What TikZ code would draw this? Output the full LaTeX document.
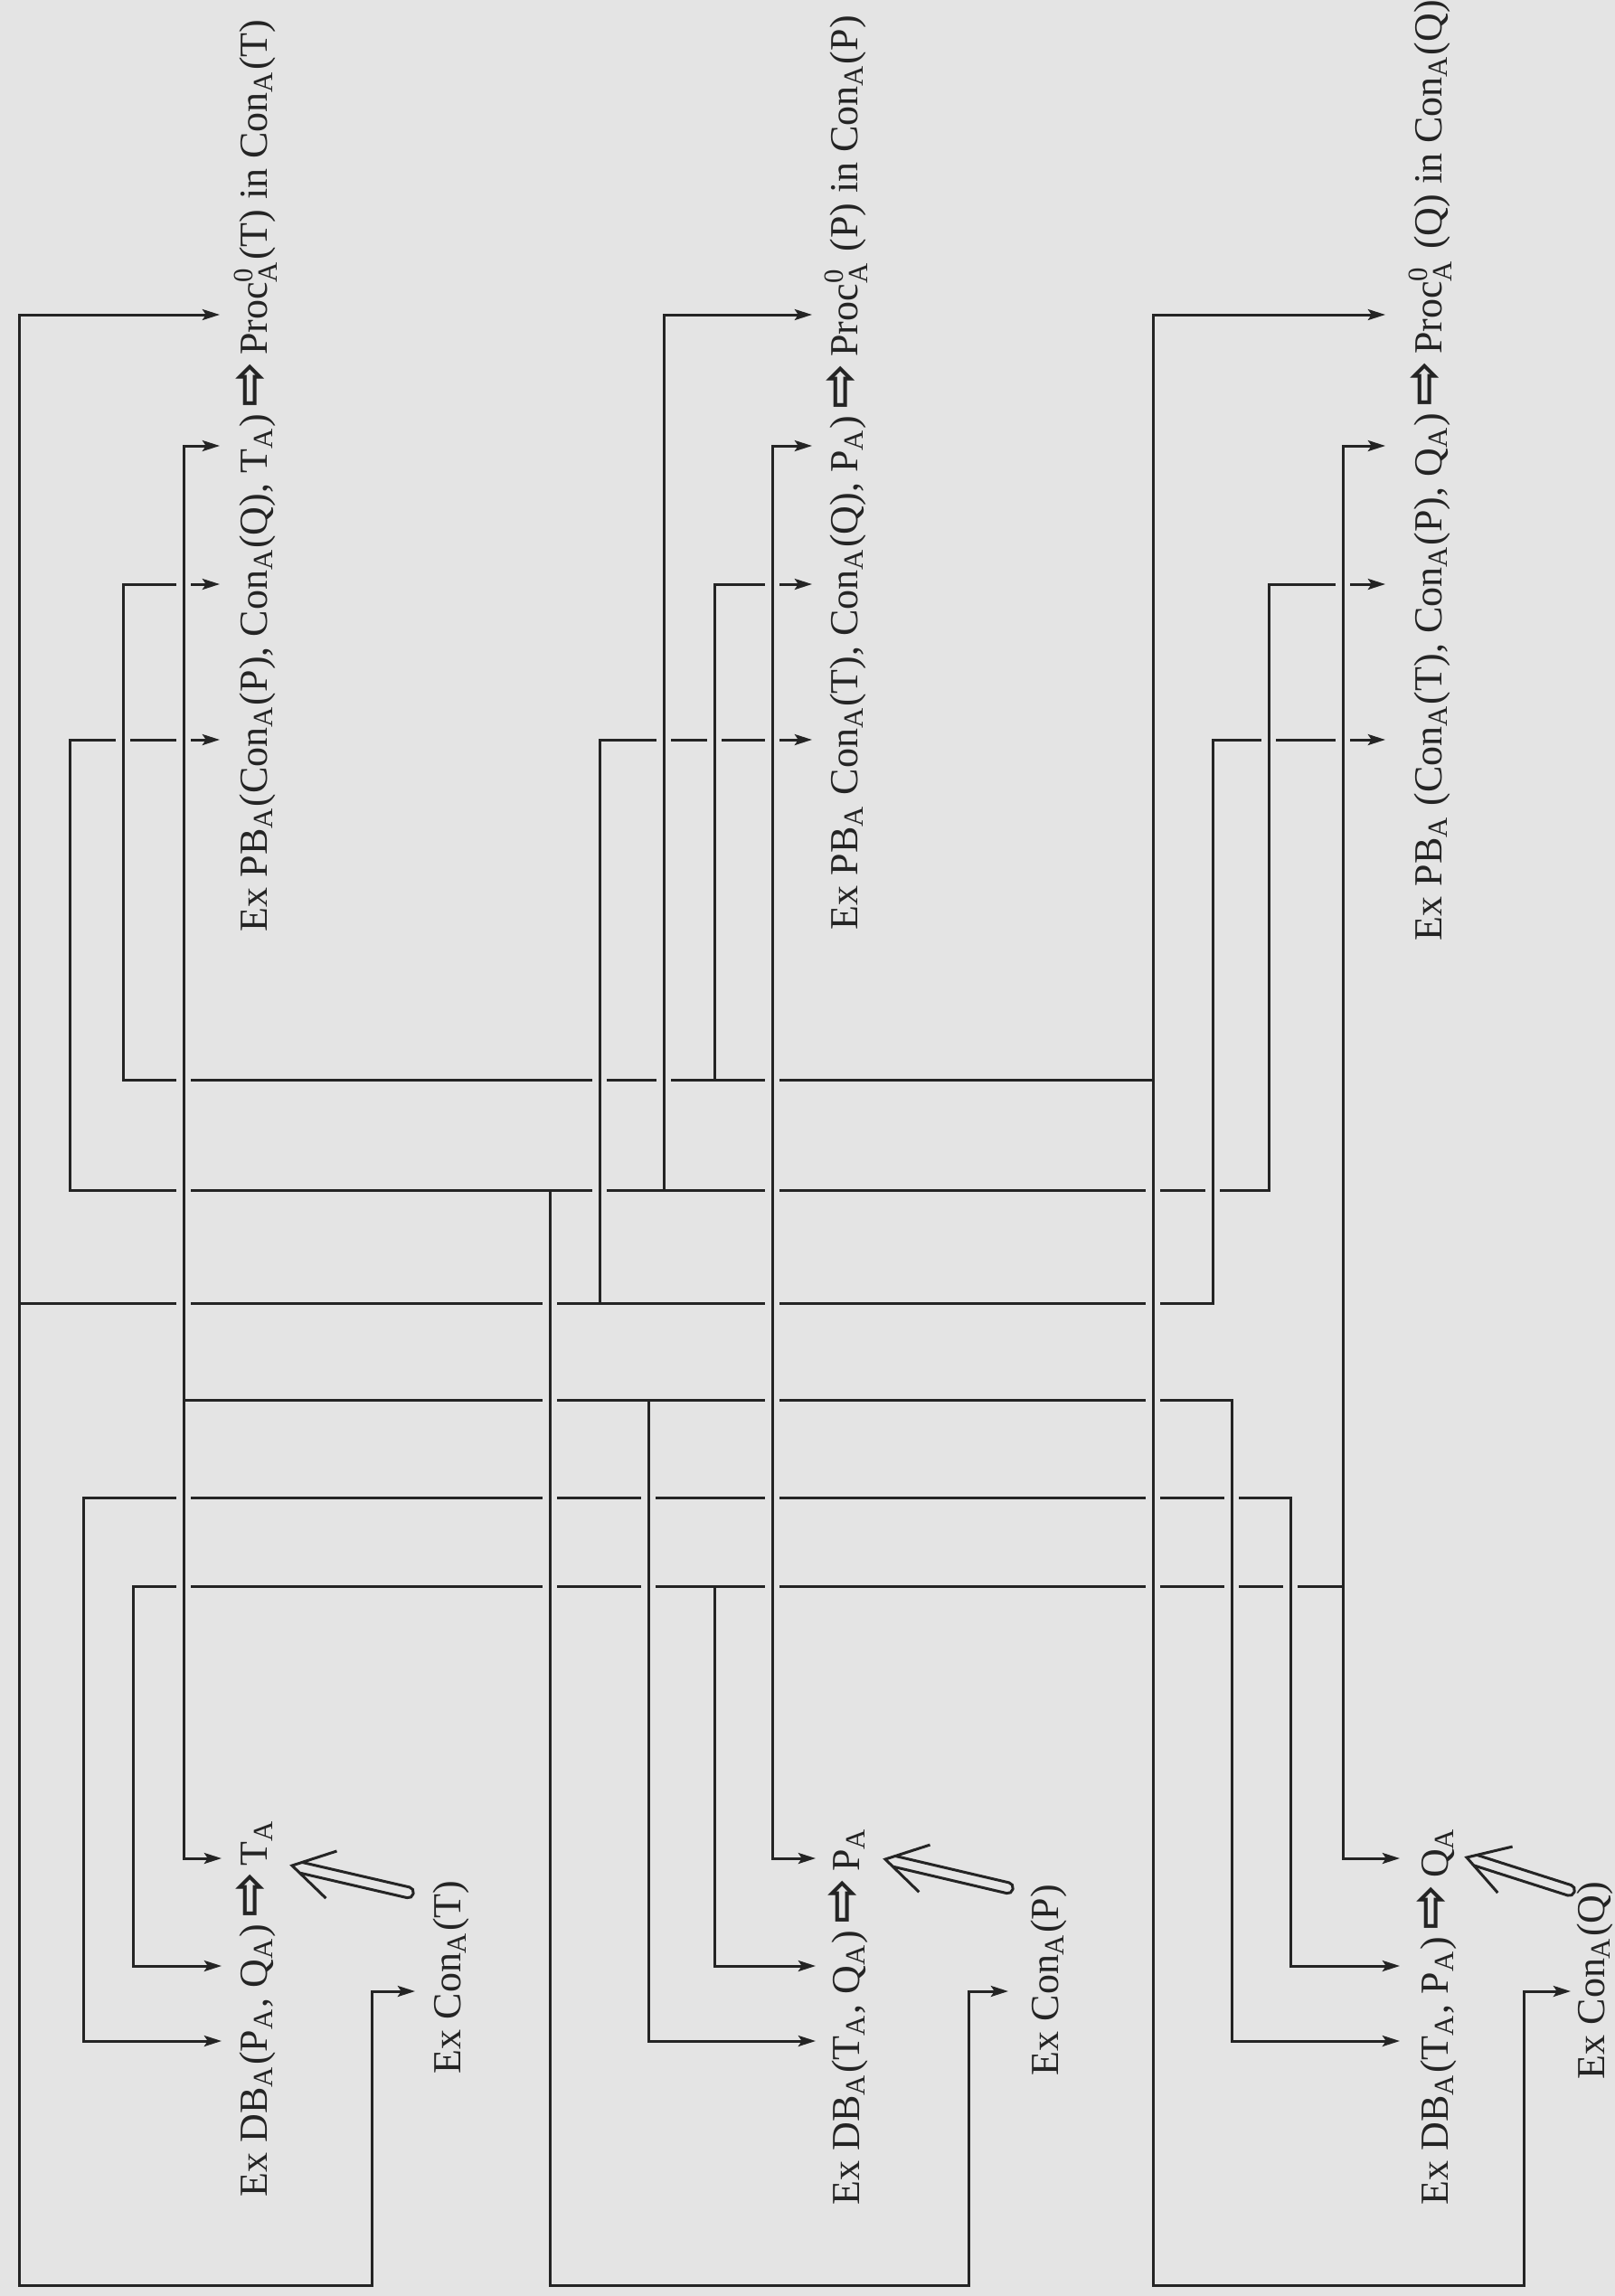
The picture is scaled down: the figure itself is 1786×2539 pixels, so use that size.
\documentclass[tikz,border=0pt]{standalone}
\usepackage{fontspec}
\usepackage{amsmath}
\setmainfont{Liberation Serif}
\newfontfamily\arrowfont{DejaVu Sans}
\usetikzlibrary{arrows.meta,calc}
\definecolor{bg}{RGB}{228,228,228}
\definecolor{ink}{RGB}{36,36,36}
\newcommand{\sA}{\ensuremath{_{\text{A}}}}
\newcommand{\pz}{\ensuremath{^{\text{0}}_{\text{A}}}}
\newcommand{\impl}{{\arrowfont\bfseries\fontsize{15}{15}\selectfont ⇨}}
\newcommand{\hollowarrow}[2]{%
  \coordinate (hb) at ($(#2)!2.6pt!(#1)$);
  \coordinate (hbL) at ($(hb)!1.5pt!90:(#1)$);
  \coordinate (hbR) at ($(hb)!1.5pt!-90:(#1)$);
  \coordinate (tlL) at ($(#1)!1.5pt!-90:(#2)$);
  \coordinate (tlR) at ($(#1)!1.5pt!90:(#2)$);
  \draw[hol,rounded corners=1.4pt] (hbL) -- (tlL) -- (tlR) -- (hbR);
  \draw[hol,line join=miter] ($(#2)!13pt!31:(#1)$) -- (#2) -- ($(#2)!13pt!-31:(#1)$);
}
\begin{document}
\begin{tikzpicture}[x=0.25pt,y=-0.25pt,
  lbl/.style={rotate=90,anchor=base west,inner sep=0pt,text=ink,font=\fontsize{11}{13}\selectfont},
  ln/.style={draw=ink,line width=0.75pt,line cap=rect},
  arw/.style={draw=ink,line width=0.75pt,-{Stealth[length=4.8pt,width=3pt,inset=1pt]}},
  vln/.style={draw=ink,line width=0.75pt,line cap=rect,preaction={draw=bg,line width=3.8pt,line cap=butt,shorten <=3pt,shorten >=3pt}},
  hol/.style={draw=ink,line width=0.75pt}]
\fill[bg] (0,0) rectangle (1786,2539);
\useasboundingbox (0,0) rectangle (1786,2539);

% ---- text nodes ----
\node[lbl] (tT) at (295,1031) {Ex PB\sA(Con\sA(P), Con\sA(Q), T\sA)\,\impl\,Proc\pz(T) in Con\sA(T)};
\node[lbl] (tP) at (948,1029) {Ex PB\sA{} Con\sA(T), Con\sA(Q), P\sA)\,\impl\,Proc\pz\ (P) in Con\sA(P)};
\node[lbl] (tQ) at (1594,1041) {Ex PB\sA{} (Con\sA(T), Con\sA(P), Q\sA)\,\impl\,Proc\pz\ (Q) in Con\sA(Q)};
\node[lbl] (dT) at (295,2430) {Ex DB\sA(P\sA, Q\sA)\,\impl\,T\sA};
\node[lbl] (dP) at (950,2439) {Ex DB\sA(T\sA, Q\sA)\,\impl\,P\sA};
\node[lbl] (dQ) at (1601,2439) {Ex DB\sA(T\sA, P\sA)\,\impl\,Q\sA};
\node[lbl] (cT) at (509,2294) {Ex Con\sA(T)};
\node[lbl] (cP) at (1170,2296) {Ex Con\sA(P)};
\node[lbl] (cQ) at (1774,2300) {Ex Con\sA(Q)};

% ---- arrow tip coordinates ----
\coordinate (tT0) at (243,348); \coordinate (tT3) at (243,493);
\coordinate (tT2) at (243,646); \coordinate (tT1) at (243,818);
\coordinate (tP0) at (898,348); \coordinate (tP3) at (898,493);
\coordinate (tP2) at (898,646); \coordinate (tP1) at (898,818);
\coordinate (tQ0) at (1532,348); \coordinate (tQ3) at (1532,493);
\coordinate (tQ2) at (1532,646); \coordinate (tQ1) at (1532,818);
\coordinate (dT3) at (245,2055); \coordinate (dT2) at (245,2174); \coordinate (dT1) at (245,2257);
\coordinate (dP3) at (902,2055); \coordinate (dP2) at (902,2174); \coordinate (dP1) at (902,2257);
\coordinate (dQ3) at (1548,2055); \coordinate (dQ2) at (1548,2174); \coordinate (dQ1) at (1548,2257);
\coordinate (cTin) at (459,2202); \coordinate (cPin) at (1115,2202); \coordinate (cQin) at (1737,2202);

% ---- horizontal lines (drawn under) ----
\draw[ln] (136,1194) -- (1275,1194);
\draw[ln] (77,1316) -- (1403,1316);
\draw[ln] (21,1441) -- (1341,1441);
\draw[ln] (203,1548) -- (1362,1548);
\draw[ln] (92,1656) -- (1427,1656);
\draw[ln] (147,1754) -- (1485,1754);
\draw[ln] (21,2527) -- (411,2527);
\draw[ln] (608,2527) -- (1071,2527);
\draw[ln] (1275,2527) -- (1685,2527);

\draw[arw] (21,348) -- (tT0);
\draw[arw] (203,493) -- (tT3);
\draw[arw] (136,646) -- (tT2);
\draw[arw] (77,818) -- (tT1);
\draw[arw] (734,348) -- (tP0);
\draw[arw] (854,493) -- (tP3);
\draw[arw] (790,646) -- (tP2);
\draw[arw] (663,818) -- (tP1);
\draw[arw] (1275,348) -- (tQ0);
\draw[arw] (1485,493) -- (tQ3);
\draw[arw] (1403,646) -- (tQ2);
\draw[arw] (1341,818) -- (tQ1);

\draw[arw] (203,2055) -- (dT3);
\draw[arw] (147,2174) -- (dT2);
\draw[arw] (92,2257) -- (dT1);
\draw[arw] (411,2202) -- (cTin);
\draw[arw] (854,2055) -- (dP3);
\draw[arw] (790,2174) -- (dP2);
\draw[arw] (717,2257) -- (dP1);
\draw[arw] (1071,2202) -- (cPin);
\draw[arw] (1485,2055) -- (dQ3);
\draw[arw] (1427,2174) -- (dQ2);
\draw[arw] (1362,2257) -- (dQ1);
\draw[arw] (1685,2202) -- (cQin);

% ---- vertical lines (drawn over, breaking the horizontals) ----
\draw[vln] (21,348) -- (21,1441);
\draw[vln] (21,1441) -- (21,2527);
\draw[vln] (77,818) -- (77,1316);
\draw[vln] (136,646) -- (136,1194);
\draw[vln] (203,493) -- (203,1548);
\draw[vln] (203,1548) -- (203,2055);
\draw[vln] (92,1656) -- (92,2257);
\draw[vln] (147,1754) -- (147,2174);
\draw[vln] (411,2527) -- (411,2202);

\draw[vln] (608,1316) -- (608,2527);
\draw[vln] (663,818) -- (663,1441);
\draw[vln] (734,348) -- (734,1316);
\draw[vln] (790,646) -- (790,1194);
\draw[vln] (854,493) -- (854,2055);
\draw[vln] (717,1548) -- (717,2257);
\draw[vln] (790,1754) -- (790,2174);
\draw[vln] (1071,2527) -- (1071,2202);

\draw[vln] (1275,348) -- (1275,1194);
\draw[vln] (1275,1194) -- (1275,2527);
\draw[vln] (1341,818) -- (1341,1441);
\draw[vln] (1403,646) -- (1403,1316);
\draw[vln] (1485,493) -- (1485,1754);
\draw[vln] (1485,1754) -- (1485,2055);
\draw[vln] (1362,1548) -- (1362,2257);
\draw[vln] (1427,1656) -- (1427,2174);
\draw[vln] (1685,2527) -- (1685,2202);

% ---- hollow arrows from Ex Con to the result ----
\coordinate (hTt) at (457,2094); \coordinate (hTh) at (323,2063);
\coordinate (hPt) at (1120,2089); \coordinate (hPh) at (979,2056);
\coordinate (hQt) at (1741,2092); \coordinate (hQh) at (1622,2054);
\hollowarrow{hTt}{hTh}
\hollowarrow{hPt}{hPh}
\hollowarrow{hQt}{hQh}
\end{tikzpicture}
\end{document}
